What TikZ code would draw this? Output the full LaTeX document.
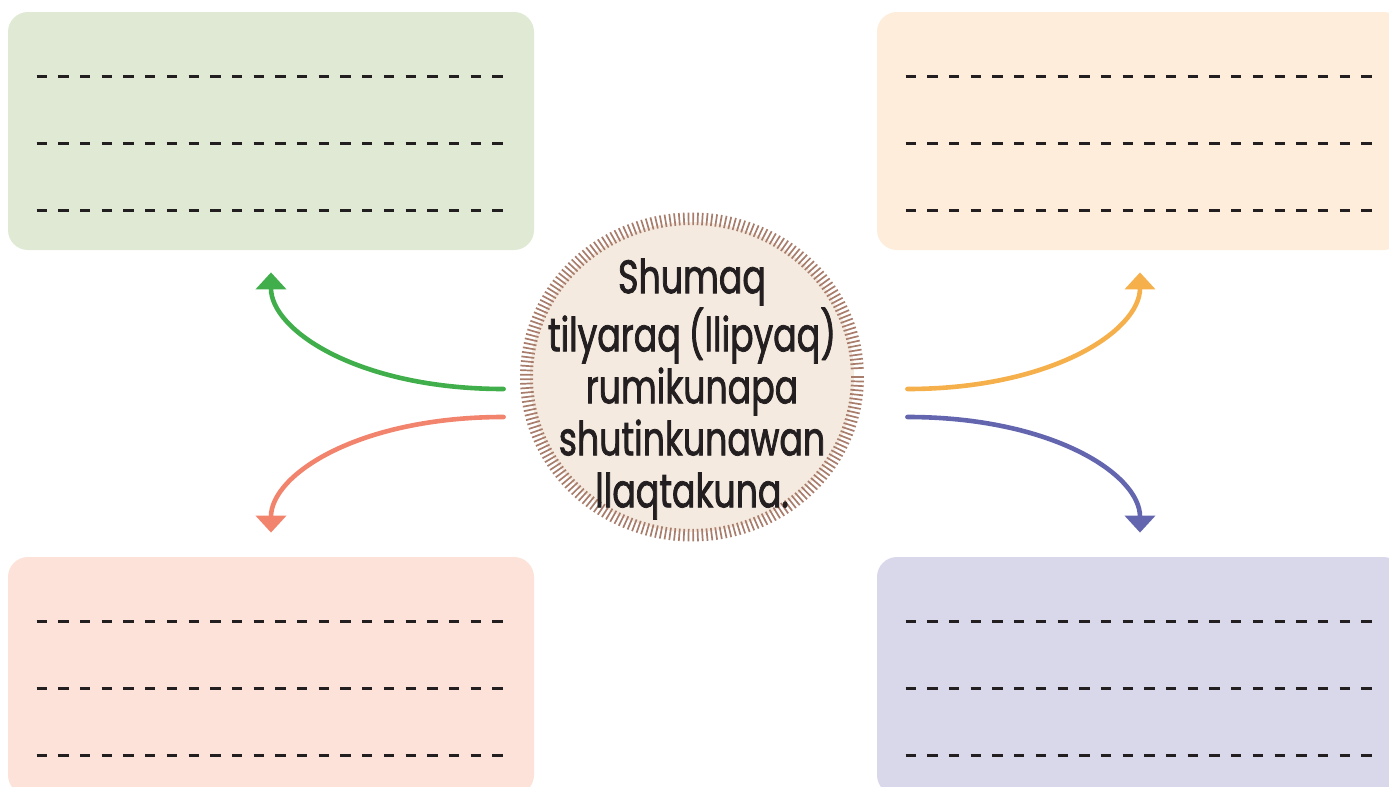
\documentclass[tikz,border=0pt]{standalone}
\usepackage{fontspec}
\newfontfamily\hubfont{Poppins}[FakeStretch=0.74, FakeBold=1.6, WordSpace=0.85]
\usetikzlibrary{arrows.meta,shapes.geometric}

\definecolor{greenbg}{HTML}{DFE9D3}
\definecolor{orangebg}{HTML}{FDEDDA}
\definecolor{pinkbg}{HTML}{FCE2D8}
\definecolor{purplebg}{HTML}{D9D7EA}
\definecolor{greenln}{HTML}{40AE4A}
\definecolor{orangeln}{HTML}{F5B04C}
\definecolor{pinkln}{HTML}{F2836C}
\definecolor{purpleln}{HTML}{6366AE}
\definecolor{hubbg}{HTML}{F5EAE0}
\definecolor{hubtick}{HTML}{A97D6C}
\definecolor{ink}{HTML}{231F20}

\begin{document}
\begin{tikzpicture}[x=0.5pt, y=-0.5pt,
	box/.style={rounded corners=10pt, minimum width=263pt, minimum height=119pt, inner sep=0pt},
	wline/.style={ink, line width=1.35pt, dash pattern=on 5.15pt off 5.7pt},
	arr/.style={line width=2.3pt, line cap=round, -{Triangle[width=15pt, length=8.5pt]}},
	hub/.style={ellipse, fill=hubbg, minimum width=162pt, minimum height=155pt, inner sep=0pt}]
\useasboundingbox (0,0) rectangle (1389,787);
\clip (0,0) rectangle (1389,787);

% answer boxes
\node[box, fill=greenbg] (green) at (271,131) {};
\node[box, fill=orangebg] (orange) at (1140,131) {};
\node[box, fill=pinkbg] (pink) at (271,676) {};
\node[box, fill=purplebg] (purple) at (1140,676) {};
\foreach \b in {green,orange,pink,purple}
	\foreach \dy in {65,132,199}
		\draw[wline] ([shift={(29,\dy)}]\b.north west) -- +(468,0);

% centre disc with its ring of ticks
\node[hub] (hub) at (692,377) {};
\foreach \a in {0,1.6,...,358.4}
	\draw[hubtick, line width=0.85pt] ([shift={(\a:159 and 152)}]hub.center) -- ([shift={(\a:172 and 164.5)}]hub.center);
\node[align=center, text=ink, font=\hubfont\fontsize{23.5}{26}\selectfont] (title) at ([shift={(0,12)}]hub.center)
	{Shumaq\\tilyaraq (llipyaq)\\rumikunapa\\shutinkunawan\\llaqtakuna.};

\coordinate (gs) at ([shift={(-26,12)}]hub.west);
\coordinate (ps) at ([shift={(-26,40)}]hub.west);
\coordinate (os) at ([shift={(53,12)}]hub.east);
\coordinate (vs) at ([shift={(53,40)}]hub.east);
\coordinate (ge) at ([shift={(0,22)}]green.south);
\coordinate (oe) at ([shift={(0,22)}]orange.south);
\coordinate (pe) at ([shift={(0,-24)}]pink.north);
\coordinate (ve) at ([shift={(0,-24)}]purple.north);

\draw[arr, greenln] (gs) .. controls +(-145,0) and +(0,58) .. (ge);
\draw[arr, pinkln] (ps) .. controls +(-145,0) and +(0,-58) .. (pe);
\draw[arr, orangeln] (os) .. controls +(145,0) and +(0,58) .. (oe);
\draw[arr, purpleln] (vs) .. controls +(145,0) and +(0,-58) .. (ve);
\end{tikzpicture}
\end{document}
